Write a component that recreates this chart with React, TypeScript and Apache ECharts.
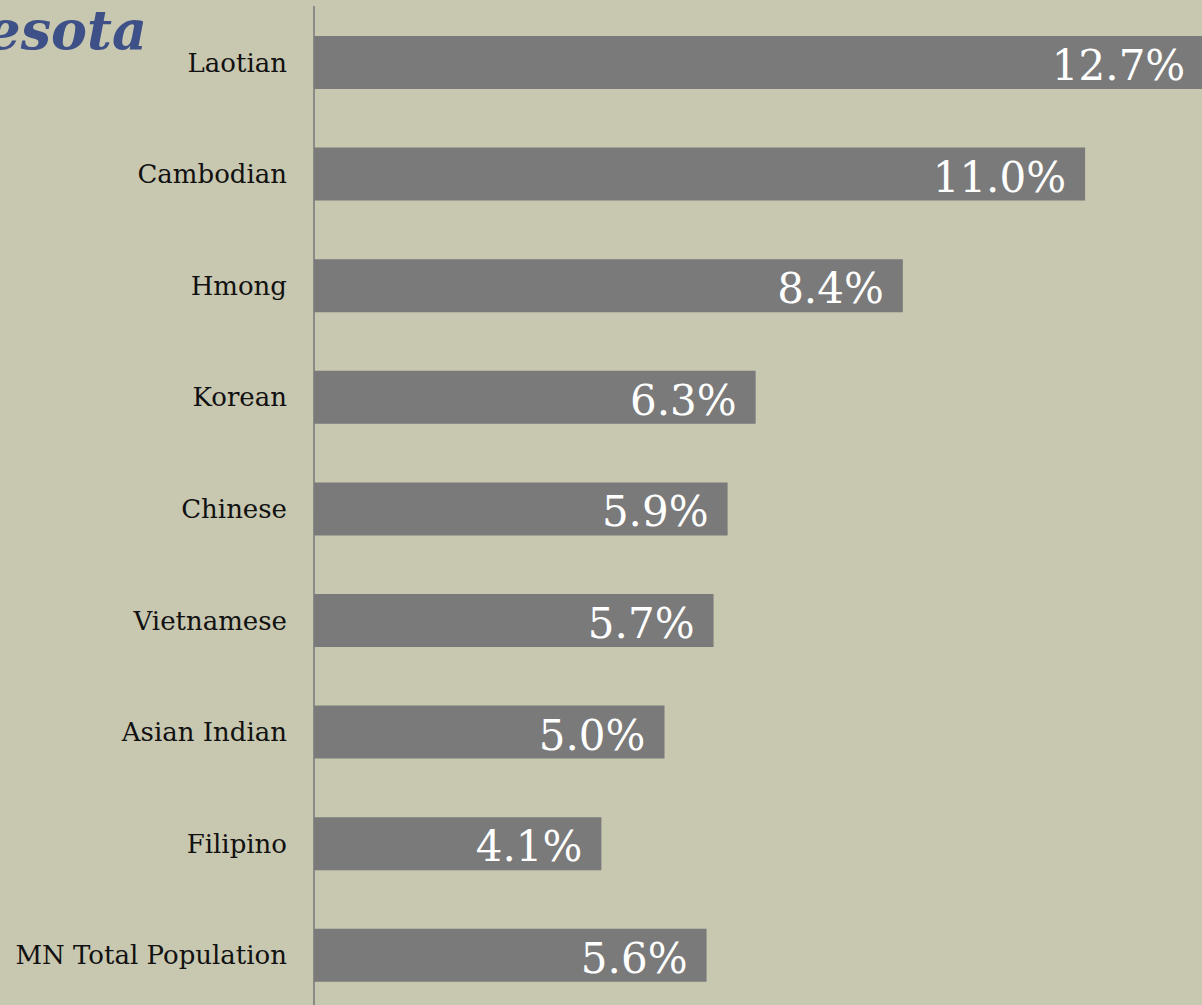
import React, { useEffect, useRef } from "react";
import * as echarts from "echarts";

const categories = [
  "Laotian",
  "Cambodian",
  "Hmong",
  "Korean",
  "Chinese",
  "Vietnamese",
  "Asian Indian",
  "Filipino",
  "MN Total Population",
];
const values = [12.7, 11.0, 8.4, 6.3, 5.9, 5.7, 5.0, 4.1, 5.6];
const titleText = "Minnesota";

export default function App() {
  const ref = useRef<HTMLDivElement>(null);
  useEffect(() => {
    document.body.style.margin = "0";
    const chart = echarts.init(ref.current!, null, { renderer: "svg" });
    chart.setOption({
      animation: false,
      backgroundColor: "#c8c7b0",
      graphic: [
        {
          type: "text",
          x: 147,
          y: 57,
          style: {
            text: titleText,
            fontFamily: "DejaVu Serif",
            fontStyle: "italic",
            fontWeight: "bold",
            fontSize: 54,
            fill: "#3d5087",
            textAlign: "right",
            textVerticalAlign: "bottom",
          },
        },
      ],
      grid: {
        left: 314,
        top: 6.7,
        right: -93.4,
        bottom: -6.1,
        containLabel: false,
        outerBoundsMode: "none",
      },
      xAxis: {
        type: "value",
        min: 0,
        max: 14,
        show: false,
      },
      yAxis: {
        type: "category",
        data: categories,
        inverse: true,
        axisLine: { show: true, lineStyle: { color: "#8a8a86", width: 2 } },
        axisTick: { show: false },
        axisLabel: {
          margin: 27,
          color: "#111",
          fontFamily: "DejaVu Serif",
          fontSize: 26,
        },
        splitLine: { show: false },
      },
      series: [
        {
          type: "bar",
          data: values,
          barWidth: "47.5%",
          itemStyle: { color: "#7a7a7a" },
          label: {
            show: true,
            position: "insideRight",
            distance: 19,
            offset: [0, 3],
            formatter: (p: any) => p.value.toFixed(1) + "%",
            color: "#fff",
            fontFamily: "DejaVu Serif",
            fontSize: 42,
          },
        },
      ],
    });
    return () => chart.dispose();
  }, []);
  return <div ref={ref} style={{ width: 1202, height: 1005 }} />;
}
